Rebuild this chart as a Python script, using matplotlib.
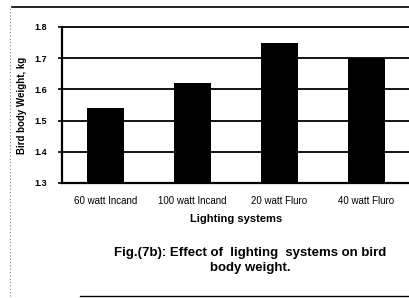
import matplotlib
matplotlib.use("Agg")
import matplotlib.pyplot as plt
from matplotlib.lines import Line2D

plt.rcParams['font.family'] = ['Liberation Sans', 'DejaVu Sans']

categories = ['60 watt Incand', '100 watt Incand', '20 watt Fluro', '40 watt Fluro']
weights = [1.54, 1.62, 1.75, 1.70]
yticks = [1.3, 1.4, 1.5, 1.6, 1.7, 1.8]

fig = plt.figure(figsize=(4.10, 2.98), dpi=100)
ax = fig.add_axes([62/410, 1 - 183/298, 1 - 62/410, 156/298])

x = range(len(categories))
ax.bar(x, weights, width=0.42, color='black', zorder=3)
ax.set_xlim(-0.5, len(categories) - 0.5)
ax.set_ylim(1.3, 1.8)
ax.set_yticks(yticks)
ax.set_yticklabels(['%.1f' % v for v in yticks], fontsize=6.5, fontweight='bold')
ax.set_xticks(list(x))
ax.set_xticklabels(categories, fontsize=7)
ax.tick_params(axis='x', length=0, pad=9)
ax.tick_params(axis='y', length=3, width=1.2, pad=8)
ax.yaxis.grid(True, color='black', linewidth=1.3, zorder=0, clip_on=False)
ax.set_axisbelow(True)

for s in ['top', 'right']:
    ax.spines[s].set_visible(False)
ax.spines['left'].set_linewidth(1.6)
ax.spines['bottom'].set_linewidth(1.6)

ax.set_ylabel('Bird body Weight, kg', fontsize=7, fontweight='bold', labelpad=5)
ax.set_xlabel('Lighting systems', fontsize=8, fontweight='bold', labelpad=6)

fig.text(250/410, 1 - 253/298, 'Fig.(7b): Effect of  lighting  systems on bird',
         ha='center', va='center', fontsize=9.5, fontweight='bold')
fig.text(250/410, 1 - 268/298, 'body weight.',
         ha='center', va='center', fontsize=9.5, fontweight='bold')

# outer frame of the scanned figure
fig.add_artist(Line2D([12/410, 1], [1 - 7/298, 1 - 7/298], color='black', linewidth=1.2))
fig.add_artist(Line2D([10/410, 10/410], [1 - 296/298, 1 - 8/298], color='gray',
                      linewidth=0.8, linestyle=(0, (1, 2))))
fig.add_artist(Line2D([80/410, 1], [1 - 296/298, 1 - 296/298], color='black', linewidth=1.0))

fig.savefig('out.png', dpi=100)
